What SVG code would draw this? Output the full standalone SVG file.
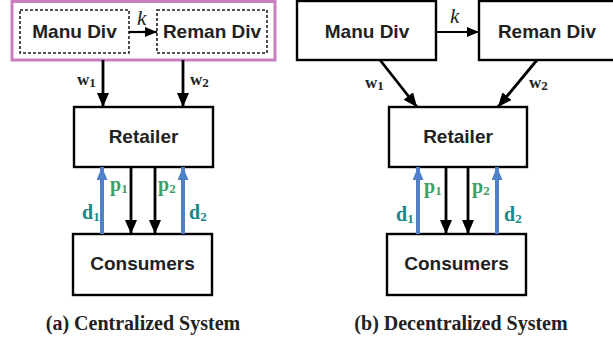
<svg xmlns="http://www.w3.org/2000/svg" width="613" height="342" viewBox="0 0 613 342">
  <defs>
    <marker id="headBlack" markerUnits="userSpaceOnUse" markerWidth="14" markerHeight="12" refX="14" refY="6" orient="auto">
      <path d="M0,0 L14,6 L0,12 Z" fill="#000"/>
    </marker>
    <marker id="headSmall" markerUnits="userSpaceOnUse" markerWidth="12" markerHeight="10" refX="12" refY="5" orient="auto">
      <path d="M0,0 L12,5 L0,10 Z" fill="#000"/>
    </marker>
    <marker id="headBlue" markerUnits="userSpaceOnUse" markerWidth="13" markerHeight="11" refX="13" refY="5.5" orient="auto">
      <path d="M0,0 L13,5.5 L0,11 Z" fill="#4f80c9"/>
    </marker>
  </defs>
  <style>
    .box { fill: #fff; stroke: #000; stroke-width: 2.4; }
    .dash { fill: #fff; stroke: #222; stroke-width: 1.6; stroke-dasharray: 3 2; }
    .group { fill: #fff; stroke: #c97fbd; stroke-width: 3; }
    .lbl { font-family: "Liberation Sans", Arial, sans-serif; font-weight: bold; font-size: 19px; fill: #222; text-anchor: middle; }
    .cap { font-family: "Liberation Serif", "Times New Roman", serif; font-weight: bold; font-size: 20px; fill: #222; text-anchor: middle; }
    .k { font-family: "Liberation Serif", "Times New Roman", serif; font-style: italic; font-size: 21px; fill: #222; }
    .w { font-family: "Liberation Serif", "Times New Roman", serif; font-weight: bold; font-size: 17px; fill: #222; }
    .p { font-family: "Liberation Serif", "Times New Roman", serif; font-weight: bold; font-size: 20px; fill: #3c9f63; }
    .d { font-family: "Liberation Serif", "Times New Roman", serif; font-weight: bold; font-size: 20px; fill: #17888a; }
    .sub { font-size: 13px; }
    .flow { stroke: #000; stroke-width: 2.8; fill: none; marker-end: url(#headBlack); }
    .kflow { stroke: #000; stroke-width: 2.2; fill: none; marker-end: url(#headSmall); }
    .demand { stroke: #4f80c9; stroke-width: 4; fill: none; marker-end: url(#headBlue); }
  </style>

  <!-- (a) Centralized system -->
  <g id="firm-a">
    <rect class="group" x="12" y="1.5" width="263" height="58.5"/>
  </g>
  <g id="manu-a">
    <rect class="dash" x="20" y="10" width="109" height="43"/>
    <text class="lbl" x="74.5" y="38">Manu Div</text>
  </g>
  <g id="reman-a">
    <rect class="dash" x="157" y="10" width="110" height="43"/>
    <text class="lbl" x="212" y="38">Reman Div</text>
  </g>
  <g id="retailer-a">
    <rect class="box" x="74" y="107" width="139" height="60"/>
    <text class="lbl" x="143.5" y="143">Retailer</text>
  </g>
  <g id="consumers-a">
    <rect class="box" x="73" y="234" width="139" height="61"/>
    <text class="lbl" x="142.5" y="270">Consumers</text>
  </g>

  <!-- (b) Decentralized system -->
  <g id="manu-b">
    <rect class="box" x="297" y="1" width="139" height="59"/>
    <text class="lbl" x="367" y="38">Manu Div</text>
  </g>
  <g id="reman-b">
    <rect class="box" x="479" y="1" width="140" height="59"/>
    <text class="lbl" x="547" y="38">Reman Div</text>
  </g>
  <g id="retailer-b">
    <rect class="box" x="389" y="107" width="138" height="60"/>
    <text class="lbl" x="458" y="143">Retailer</text>
  </g>
  <g id="consumers-b">
    <rect class="box" x="387" y="234" width="139" height="61"/>
    <text class="lbl" x="456.5" y="270">Consumers</text>
  </g>

  <g id="connectors">
    <!-- (a) -->
    <line class="kflow" x1="129" y1="32" x2="157" y2="32"/>
    <line class="flow" x1="103" y1="60" x2="103" y2="107"/>
    <line class="flow" x1="183" y1="60" x2="183" y2="107"/>
    <line class="demand" x1="102" y1="234" x2="102" y2="167"/>
    <line class="flow" x1="131" y1="167" x2="131" y2="234"/>
    <line class="flow" x1="155" y1="167" x2="155" y2="234"/>
    <line class="demand" x1="183" y1="234" x2="183" y2="167"/>
    <!-- (b) -->
    <line class="kflow" x1="436" y1="32" x2="479" y2="32"/>
    <line class="flow" x1="380" y1="60" x2="417" y2="107"/>
    <line class="flow" x1="537" y1="60" x2="498" y2="107"/>
    <line class="demand" x1="418" y1="234" x2="418" y2="167"/>
    <line class="flow" x1="446" y1="167" x2="446" y2="234"/>
    <line class="flow" x1="468" y1="167" x2="468" y2="234"/>
    <line class="demand" x1="497" y1="234" x2="497" y2="167"/>
  </g>

  <g id="labels">
    <text class="k" x="137" y="25">k</text>
    <text class="w" x="77" y="85">w<tspan class="sub" dy="2">1</tspan></text>
    <text class="w" x="190" y="85">w<tspan class="sub" dy="2">2</tspan></text>
    <text class="p" x="110" y="191">p<tspan class="sub" dy="2">1</tspan></text>
    <text class="p" x="158" y="191">p<tspan class="sub" dy="2">2</tspan></text>
    <text class="d" x="82" y="219">d<tspan class="sub" dy="2">1</tspan></text>
    <text class="d" x="189" y="219">d<tspan class="sub" dy="2">2</tspan></text>

    <text class="k" x="450" y="23">k</text>
    <text class="w" x="365" y="88">w<tspan class="sub" dy="2">1</tspan></text>
    <text class="w" x="529" y="88">w<tspan class="sub" dy="2">2</tspan></text>
    <text class="p" x="424" y="193">p<tspan class="sub" dy="2">1</tspan></text>
    <text class="p" x="472" y="193">p<tspan class="sub" dy="2">2</tspan></text>
    <text class="d" x="396" y="221">d<tspan class="sub" dy="2">1</tspan></text>
    <text class="d" x="504" y="221">d<tspan class="sub" dy="2">2</tspan></text>

    <text class="cap" x="143" y="330">(a) Centralized System</text>
    <text class="cap" x="461" y="330">(b) Decentralized System</text>
  </g>
</svg>
